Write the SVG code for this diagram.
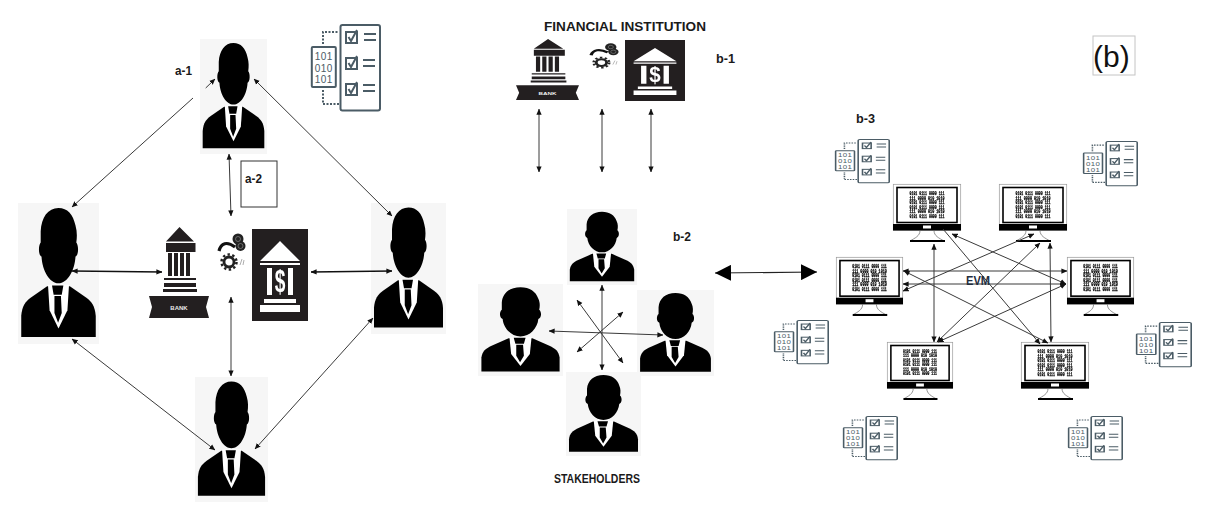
<svg xmlns="http://www.w3.org/2000/svg" xmlns:xlink="http://www.w3.org/1999/xlink" width="1217" height="510" viewBox="0 0 1217 510">
<style>
text{font-family:"Liberation Sans",Arial,sans-serif}
.lbl{font-size:12px;font-weight:700;fill:#1a1a1a}
.k{fill:#000}
.d{fill:#231f20}
.w{fill:#fff}
.c{fill:none;stroke:#3a3a3a;stroke-width:1;marker-start:url(#ah);marker-end:url(#ah)}
.t{stroke:#111;stroke-width:1.500}
.s{fill:none;stroke:#3a3a3a;stroke-width:1}
.ck{fill:none;stroke:#4b5c66;stroke-width:2}
.bin{font-size:10px;fill:#4b5c66;letter-spacing:0.500px}
.scr{font-size:5.200px;font-weight:700;fill:#000;stroke:#000;stroke-width:0.250px;font-family:"Liberation Mono",monospace}
</style>
<defs>
<filter id="soft" x="-5%" y="-5%" width="110%" height="110%"><feGaussianBlur stdDeviation="0.200"/></filter>
<marker id="ah" viewBox="0 0 8 8" refX="7.500" refY="4" markerWidth="6" markerHeight="6" markerUnits="userSpaceOnUse" orient="auto-start-reverse"><path d="M0 0.500L8 4L0 7.500Z" fill="#111"/></marker>
<marker id="big" viewBox="0 0 16 16" refX="16" refY="8" markerWidth="16" markerHeight="16" markerUnits="userSpaceOnUse" orient="auto-start-reverse"><path d="M0 0L16 8L0 16Z" fill="#000"/></marker>
<symbol id="person" viewBox="0 0 100 100" preserveAspectRatio="none" overflow="visible">
<rect width="100" height="100" fill="#f6f6f6"/>
<path class="k" d="M50 3.500C37 3.500 29 10 28 20L28 28C25 30 25 37 29 38C30 48 39 57 50 57C61 57 70 48 71 38C75 37 75 30 72 28C73 24 73 20 71 16C68 8 61 3.500 50 3.500Z"/>
<path class="k" d="M4 95L4 80C5 73 9 70 16 67L36 59L64 59L84 67C91 70 95 73 96 80L96 95Z"/>
<path class="w" d="M37 58L63 58L61 76L50 89L39 76Z"/>
<path class="k" d="M42 58.500L56 58.500L54 65L44 65ZM45 66L53 66L54 78L49.500 85L45 78Z"/>
</symbol>
<symbol id="bank" viewBox="0 0 60 91" preserveAspectRatio="none" overflow="visible">
<path class="d" d="M30.500 0L17 14.500L45 14.500ZM17 16H46.500V25H17ZM19 26H23V49H19ZM25 26H29V49H25ZM31 26H35V49H31ZM37 26H41V49H37ZM15 51H47V53H15ZM15 56H47V60H15ZM14 62H48V65H14ZM0 69H60L57 80L60 91H0L3 80Z"/>
<text x="30" y="83" text-anchor="middle" font-size="6" font-weight="700" fill="#e8e8e8">BANK</text>
</symbol>
<symbol id="vault" viewBox="0 0 56 92" preserveAspectRatio="none" overflow="visible">
<rect width="56" height="92" class="d"/>
<path class="w" d="M28 12L8 32H48ZM8 34H48V36H8ZM15 39H20V66H15ZM36 39H41V66H36ZM12 70H44V74H12ZM8 76H48V83H8Z"/>
<g filter="url(#soft)"><text transform="translate(28 63) scale(0.600 1)" text-anchor="middle" font-size="32" font-weight="700" fill="#fff">$</text></g>
</symbol>
<symbol id="gear" viewBox="0 0 26 40" preserveAspectRatio="none" overflow="visible">
<circle cx="20" cy="6" r="5.500" fill="#222"/><circle cx="22.500" cy="13" r="5" fill="#222"/>
<circle cx="20" cy="6" r="2.500" fill="none" stroke="#888" stroke-width="0.700"/><circle cx="22.500" cy="13" r="2.500" fill="none" stroke="#888" stroke-width="0.700"/>
<path d="M1 18C3 10 9 8 17 14" fill="none" stroke="#111" stroke-width="3.200"/>
<circle cx="11" cy="29" r="5" fill="none" stroke="#222" stroke-width="2.800"/>
<circle cx="11" cy="29" r="7.500" fill="none" stroke="#222" stroke-width="2.500" stroke-dasharray="2.400 2.400"/>
<path d="M22 32L24 26M25 32L26 27" stroke="#999" stroke-width="0.800" fill="none"/>
</symbol>
<symbol id="check" viewBox="0 0 70 87" preserveAspectRatio="none" overflow="visible">
<rect x="29.500" y="1" width="39.500" height="85.500" rx="2" class="ck"/>
<rect x="0.800" y="23" width="24" height="40" rx="1" class="ck"/>
<text x="12.800" y="36" text-anchor="middle" class="bin">101</text>
<text x="12.800" y="47.500" text-anchor="middle" class="bin">010</text>
<text x="12.800" y="59" text-anchor="middle" class="bin">101</text>
<path class="ck" stroke-dasharray="2 1.500" d="M12 20V8H28M12 66V80H28"/>
<rect x="35" y="8" width="11" height="11" class="ck"/><rect x="35" y="34" width="11" height="11" class="ck"/><rect x="35" y="60" width="11" height="11" class="ck"/>
<path class="ck" d="M37.500 13L40 17L46 6M37.500 39L40 43L46 32M37.500 65L40 69L46 58M53 10H65M53 16H65M52 36H64M52 42H64M52 61H64M52 67H64"/>
</symbol>
<symbol id="pc" viewBox="0 0 68 59" preserveAspectRatio="none" overflow="visible">
<rect x="0.300" y="0.300" width="67.400" height="46" fill="#fff" stroke="#999" stroke-width="0.700"/>
<rect x="4" y="3.500" width="60" height="35" fill="#fff" stroke="#000" stroke-width="1.600"/>
<rect y="40" width="68" height="6.500" class="k"/><rect x="30" y="41.500" width="8" height="3" class="w"/>
<g filter="url(#soft)">
<text x="16.500" y="11" class="scr" textLength="35" lengthAdjust="spacingAndGlyphs">0101 0111 0000 111</text>
<text x="16.500" y="15.500" class="scr" textLength="35" lengthAdjust="spacingAndGlyphs">111 0000 010 1010</text>
<text x="16.500" y="20" class="scr" textLength="35" lengthAdjust="spacingAndGlyphs">0101 0111 0000 111</text>
<text x="16.500" y="24.500" class="scr" textLength="35" lengthAdjust="spacingAndGlyphs">0101 0111 0000 111</text>
<text x="16.500" y="29" class="scr" textLength="35" lengthAdjust="spacingAndGlyphs">111 0000 010 1010</text>
<text x="16.500" y="33.500" class="scr" textLength="35" lengthAdjust="spacingAndGlyphs">0101 0111 0000 111</text>
</g>
<path d="M27 46.500C27 52 22 54 17 57M41 46.500C41 52 46 54 51 57" fill="none" stroke="#666" stroke-width="0.700"/>
<rect x="17" y="56" width="35" height="2" class="k"/>
</symbol>
</defs>
<rect width="1217" height="510" fill="#fff"/>

<g id="a-1-person"><use href="#person" x="200" y="39" width="67" height="115"/></g>
<g id="a-left-person"><use href="#person" x="18" y="203" width="81" height="141"/></g>
<g id="a-right-person"><use href="#person" x="371" y="203" width="75" height="131"/></g>
<g id="a-bottom-person"><use href="#person" x="195" y="377" width="73" height="125"/></g>
<g id="a-bank"><use href="#bank" x="149" y="227" width="60" height="91"/></g>
<g id="a-gear"><use href="#gear" x="218" y="233" width="26" height="40"/></g>
<g id="a-vault"><use href="#vault" x="252" y="229" width="56" height="92"/></g>
<g id="a-ledger"><use href="#check" x="311" y="24" width="70" height="87"/></g>
<g id="a-1-label"><text class="lbl" x="175" y="75" textLength="17" lengthAdjust="spacingAndGlyphs">a-1</text></g>
<g id="a-2-label"><rect x="241" y="161" width="36" height="46" fill="#fff" stroke="#333" stroke-width="1"/><text class="lbl" x="245" y="183" textLength="17" lengthAdjust="spacingAndGlyphs">a-2</text></g>

<g id="b-financial-title"><text class="lbl" x="544" y="31" textLength="162" lengthAdjust="spacingAndGlyphs">FINANCIAL INSTITUTION</text></g>
<g id="b-bank"><use href="#bank" x="516" y="39" width="63" height="61"/></g>
<g id="b-gear"><use href="#gear" x="590" y="43" width="27" height="27"/></g>
<g id="b-vault"><use href="#vault" x="625" y="40" width="60" height="61"/></g>
<g id="b-1-label"><text class="lbl" x="716" y="63" textLength="19" lengthAdjust="spacingAndGlyphs">b-1</text></g>
<g id="b-2-label"><text class="lbl" x="673" y="241" textLength="18" lengthAdjust="spacingAndGlyphs">b-2</text></g>
<g id="b-3-label"><text class="lbl" x="856" y="123" textLength="19" lengthAdjust="spacingAndGlyphs">b-3</text></g>
<g id="b-tag"><rect x="1093" y="36" width="42" height="39" fill="#fff" stroke="#c4c4c4" stroke-width="1"/><text x="1093" y="67" font-size="30" fill="#111">(b)</text></g>
<g id="b-top-person"><use href="#person" x="567" y="209" width="70" height="76"/></g>
<g id="b-left-person"><use href="#person" x="478" y="284" width="85" height="92"/></g>
<g id="b-right-person"><use href="#person" x="637" y="290" width="77" height="86"/></g>
<g id="b-bottom-person"><use href="#person" x="566" y="372" width="75" height="84"/></g>
<g id="b-stakeholders"><text class="lbl" x="554" y="483" textLength="86" lengthAdjust="spacingAndGlyphs">STAKEHOLDERS</text></g>

<g id="pc-1"><use href="#pc" x="893" y="184" width="68" height="59"/></g>
<g id="pc-2"><use href="#pc" x="999" y="184" width="68" height="59"/></g>
<g id="pc-3"><use href="#pc" x="836" y="257" width="67" height="60"/></g>
<g id="pc-4"><use href="#pc" x="1067" y="257" width="67" height="60"/></g>
<g id="pc-5"><use href="#pc" x="887" y="342" width="66" height="59"/></g>
<g id="pc-6"><use href="#pc" x="1021" y="342" width="68" height="59"/></g>
<g id="ledger-1"><use href="#check" x="835" y="139" width="55" height="44"/></g>
<g id="ledger-2"><use href="#check" x="1083" y="141" width="55" height="45"/></g>
<g id="ledger-3"><use href="#check" x="774" y="320" width="55" height="44"/></g>
<g id="ledger-4"><use href="#check" x="1136" y="322" width="56" height="45"/></g>
<g id="ledger-5"><use href="#check" x="843" y="416" width="55" height="44"/></g>
<g id="ledger-6"><use href="#check" x="1068" y="416" width="55" height="44"/></g>

<g id="connectors">
<path class="s" marker-end="url(#ah)" d="M205.700 88L215 79"/>
<path class="s" marker-end="url(#ah)" d="M193 98L72 207"/>
<path class="c" d="M254 79L392 216"/>
<path class="c" d="M229 154L231 216"/>
<path class="c t" d="M72 271L162 272"/>
<path class="c t" d="M311 272L392 271"/>
<path class="c" d="M231 297V376"/>
<path class="c" d="M72 339L215 450"/>
<path class="c" d="M373 318L255 449"/>
<path class="c" d="M539 109V172"/>
<path class="c" d="M602 109V172"/>
<path class="c" d="M651 109V172"/>
<path class="c" d="M602 285V370"/>
<path class="c" d="M549 331L663 335"/>
<path class="c" d="M577 300L623 363"/>
<path class="c" d="M623 312L577 352"/>
<path d="M715 273L817 272" fill="none" stroke="#222" stroke-width="1.200" marker-start="url(#big)" marker-end="url(#big)"/>
<path class="c" d="M934 244V342"/>
<path class="s" marker-end="url(#ah)" d="M943 229L1040 344"/>
<path class="c" d="M952 234L1066 284"/>
<path class="c" d="M1034 234L903 291"/>
<path class="c" d="M1040 243L937 342"/>
<path class="c" d="M1050 243L1051 342"/>
<path class="c" d="M903 271H1067"/>
<path class="c" d="M903 284L1066 284"/>
<path class="c" d="M904 271L1048 343"/>
<path class="c" d="M1066 284L938 342"/>
</g>
<g id="evm-label"><text x="966" y="285" font-size="13" font-weight="700" fill="#1f2d3d" textLength="24" lengthAdjust="spacingAndGlyphs">EVM</text></g>
</svg>
